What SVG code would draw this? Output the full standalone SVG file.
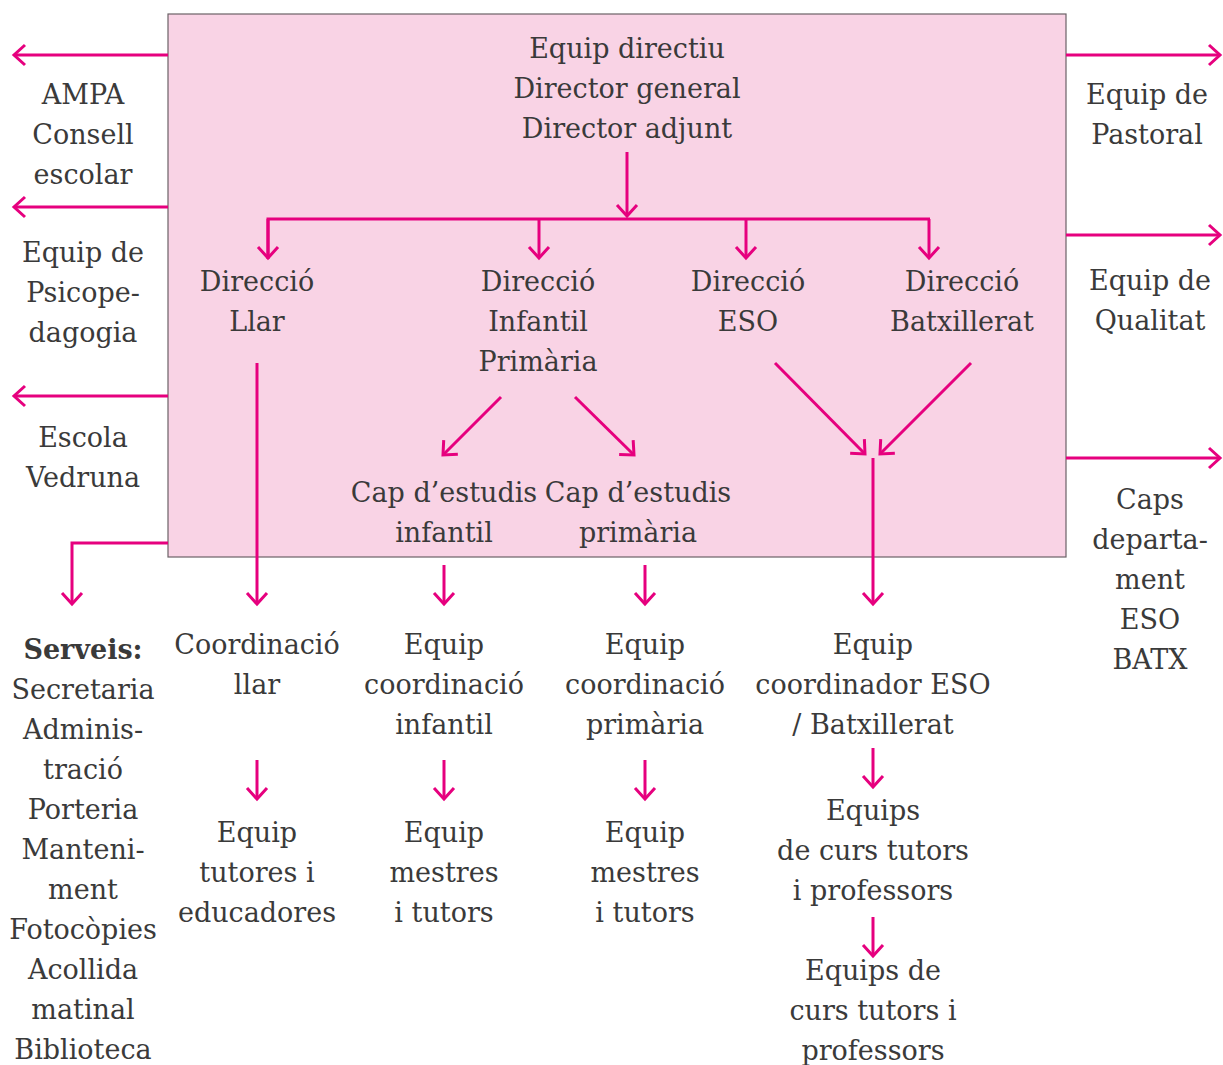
<svg xmlns="http://www.w3.org/2000/svg" width="1223" height="1065" viewBox="0 0 1223 1065">
<defs>
<marker id="ah" markerUnits="userSpaceOnUse" markerWidth="30" markerHeight="30" viewBox="-15 -15 30 30" refX="0" refY="0" orient="auto">
<path d="M-11,-10 L0,0 L-11,10" fill="none" stroke="#e6007e" stroke-width="3"/>
</marker>
</defs>
<style>
text{font-family:"DejaVu Serif","Liberation Serif",serif;font-size:27px;fill:#3a3a3a;text-anchor:middle}
.c{fill:none;stroke:#e6007e;stroke-width:3}
.a{marker-end:url(#ah)}
.b{font-weight:bold}
</style>
<rect x="168" y="14" width="898" height="543" fill="#f9d3e5" stroke="#6b6266" stroke-width="1.2"/>
<g id="connectors">
<path class="c a" d="M168,55 H14"/>
<path class="c a" d="M168,207 H14"/>
<path class="c a" d="M168,396 H14"/>
<path class="c a" d="M168,543 H72 V604"/>
<path class="c a" d="M1066,55 H1220"/>
<path class="c a" d="M1066,235 H1220"/>
<path class="c a" d="M1066,458 H1220"/>
<path class="c a" d="M627,152 V216"/>
<path class="c" d="M268,259 V219 H930"/>
<path class="c a" d="M268,219 V258"/>
<path class="c a" d="M539,219 V258"/>
<path class="c a" d="M746,219 V258"/>
<path class="c a" d="M929,219 V258"/>
<path class="c a" d="M257,363 V604"/>
<path class="c a" d="M501,397 L443,455"/>
<path class="c a" d="M575,397 L634,455"/>
<path class="c a" d="M775,363 L865,454"/>
<path class="c a" d="M971,363 L880,454"/>
<path class="c a" d="M873,458 V604"/>
<path class="c a" d="M444,565 V604"/>
<path class="c a" d="M645,565 V604"/>
<path class="c a" d="M257,760 V799"/>
<path class="c a" d="M444,760 V799"/>
<path class="c a" d="M645,760 V799"/>
<path class="c a" d="M873,748 V787"/>
<path class="c a" d="M873,917 V956"/>
</g>
<g id="equip-directiu"><text x="627" y="58">Equip directiu</text><text x="627" y="98">Director general</text><text x="627" y="138">Director adjunt</text></g>
<g id="ampa"><text x="83" y="104">AMPA</text><text x="83" y="144">Consell</text><text x="83" y="184">escolar</text></g>
<g id="psicopedagogia"><text x="83" y="262">Equip de</text><text x="83" y="302">Psicope-</text><text x="83" y="342">dagogia</text></g>
<g id="escola-vedruna"><text x="83" y="447">Escola</text><text x="83" y="487">Vedruna</text></g>
<g id="serveis"><text x="83" y="659" class="b">Serveis:</text><text x="83" y="699">Secretaria</text><text x="83" y="739">Adminis-</text><text x="83" y="779">tració</text><text x="83" y="819">Porteria</text><text x="83" y="859">Manteni-</text><text x="83" y="899">ment</text><text x="83" y="939">Fotocòpies</text><text x="83" y="979">Acollida</text><text x="83" y="1019">matinal</text><text x="83" y="1059">Biblioteca</text></g>
<g id="pastoral"><text x="1147" y="104">Equip de</text><text x="1147" y="144">Pastoral</text></g>
<g id="qualitat"><text x="1150" y="290">Equip de</text><text x="1150" y="330">Qualitat</text></g>
<g id="caps"><text x="1150" y="509">Caps</text><text x="1150" y="549">departa-</text><text x="1150" y="589">ment</text><text x="1150" y="629">ESO</text><text x="1150" y="669">BATX</text></g>
<g id="direccio-llar"><text x="257" y="291">Direcció</text><text x="257" y="331">Llar</text></g>
<g id="direccio-infantil"><text x="538" y="291">Direcció</text><text x="538" y="331">Infantil</text><text x="538" y="371">Primària</text></g>
<g id="direccio-eso"><text x="748" y="291">Direcció</text><text x="748" y="331">ESO</text></g>
<g id="direccio-batx"><text x="962" y="291">Direcció</text><text x="962" y="331">Batxillerat</text></g>
<g id="cap-infantil"><text x="444" y="502">Cap d’estudis</text><text x="444" y="542">infantil</text></g>
<g id="cap-primaria"><text x="638" y="502">Cap d’estudis</text><text x="638" y="542">primària</text></g>
<g id="coord-llar"><text x="257" y="654">Coordinació</text><text x="257" y="694">llar</text></g>
<g id="coord-infantil"><text x="444" y="654">Equip</text><text x="444" y="694">coordinació</text><text x="444" y="734">infantil</text></g>
<g id="coord-primaria"><text x="645" y="654">Equip</text><text x="645" y="694">coordinació</text><text x="645" y="734">primària</text></g>
<g id="coord-eso"><text x="873" y="654">Equip</text><text x="873" y="694">coordinador ESO</text><text x="873" y="734">/ Batxillerat</text></g>
<g id="tutores"><text x="257" y="842">Equip</text><text x="257" y="882">tutores i</text><text x="257" y="922">educadores</text></g>
<g id="mestres-infantil"><text x="444" y="842">Equip</text><text x="444" y="882">mestres</text><text x="444" y="922">i tutors</text></g>
<g id="mestres-primaria"><text x="645" y="842">Equip</text><text x="645" y="882">mestres</text><text x="645" y="922">i tutors</text></g>
<g id="equips-curs-1"><text x="873" y="820">Equips</text><text x="873" y="860">de curs tutors</text><text x="873" y="900">i professors</text></g>
<g id="equips-curs-2"><text x="873" y="980">Equips de</text><text x="873" y="1020">curs tutors i</text><text x="873" y="1060">professors</text></g>
</svg>
